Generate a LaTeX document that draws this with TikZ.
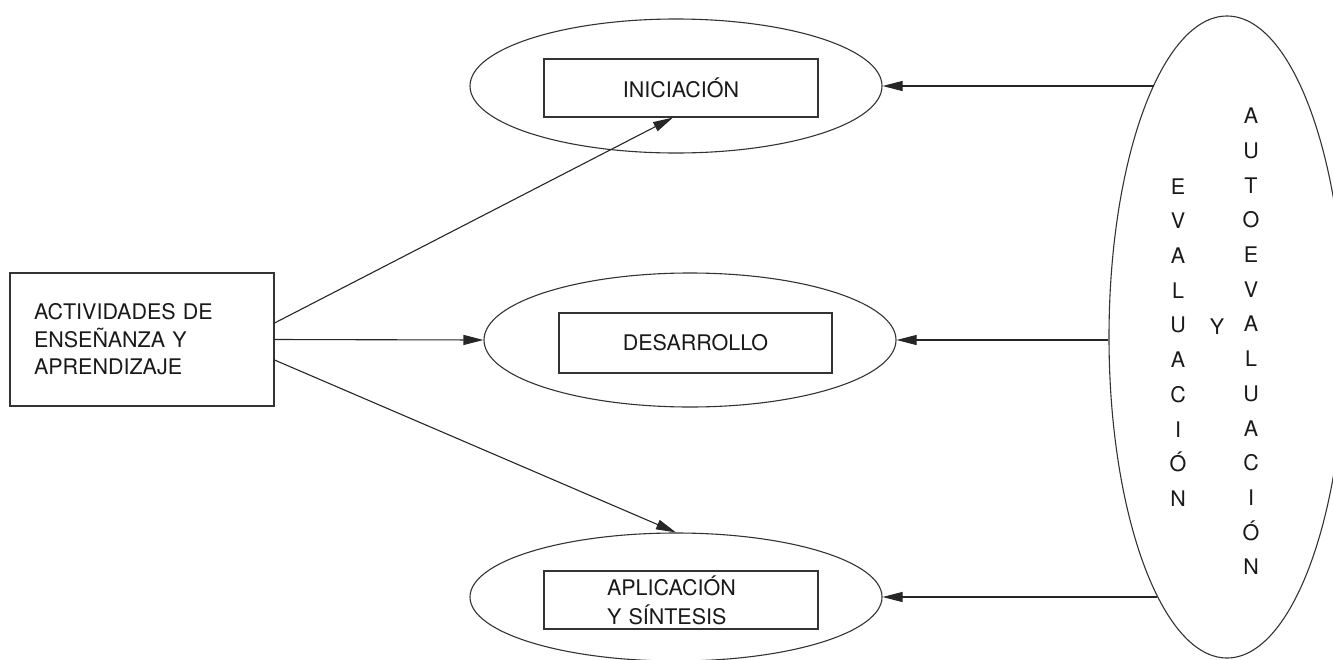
\documentclass[tikz,border=0pt]{standalone}
\usepackage{fontspec}
\setmainfont{TeX Gyre Heros}
\usepackage{tikz}
\usetikzlibrary{arrows.meta,shapes.geometric}

\tikzset{
  etapa/.style={ellipse, draw=black!80, line width=1.1pt, minimum width=412pt, minimum height=134pt, inner sep=0pt},
  caja/.style={rectangle, draw=black!80, line width=1.1pt, minimum width=274pt, minimum height=58pt, inner sep=0pt, text=black!90, font=\fontsize{21.5}{29}\selectfont},
  letras/.style={align=center, inner sep=0pt, text=black!90, font=\fontsize{21.5}{34.7}\selectfont},
  flecha/.style={-{Triangle[length=20pt,width=10pt]}, draw=black!85, line width=1.1pt}
}

\begin{document}
\begin{tikzpicture}[x=1pt, y=-1pt]
\useasboundingbox (0,0) rectangle (1333,659);
%%%%% Actividades %%%%%
\node[caja, minimum width=264pt, minimum height=133pt, align=left, text width=216pt, font=\fontsize{21.5}{27.5}\selectfont] (act) at (142,339.5) {ACTIVIDADES DE\\ENSEÑANZA Y\\APRENDIZAJE};
%%%%% Etapas %%%%%
\node[etapa] (ini) at (676,86) {};
\node[caja] (iniB) at (681,88) {INICIACIÓN};
\node[etapa] (des) at (690,340) {};
\node[caja, minimum width=273pt, minimum height=60pt] (desB) at (695.5,343) {DESARROLLO};
\node[etapa, minimum height=128pt] (apl) at (676,597) {};
\node[caja, align=left, text width=148pt] (aplB) at (681,600) {APLICACIÓN\\Y SÍNTESIS};
%%%%% Evaluacion %%%%%
\node[ellipse, draw=black!80, line width=1.1pt, minimum width=236pt, minimum height=642pt, inner sep=0pt] (eva) at (1227,337) {};
\node[letras] (evaL) at (1178,342.5) {E\\V\\A\\L\\U\\A\\C\\I\\Ó\\N};
\node[letras] (evaY) at (1217,327) {Y};
\node[letras] (evaR) at (1251,341.5) {A\\U\\T\\O\\E\\V\\A\\L\\U\\A\\C\\I\\Ó\\N};
%%%%% Flechas %%%%%
\draw[flecha] ([yshift=16.5pt]act.east) -- ([xshift=-8pt]iniB.south);
\draw[flecha] (act.east) -- (des.west);
\draw[flecha] ([yshift=-20.5pt]act.east) -- (apl.north);
\draw[flecha] (eva.106 |- ini.east) -- (ini.east);
\draw[flecha] (eva.west |- des.east) -- (des.east);
\draw[flecha] (eva.255 |- apl.east) -- (apl.east);
\end{tikzpicture}
\end{document}
